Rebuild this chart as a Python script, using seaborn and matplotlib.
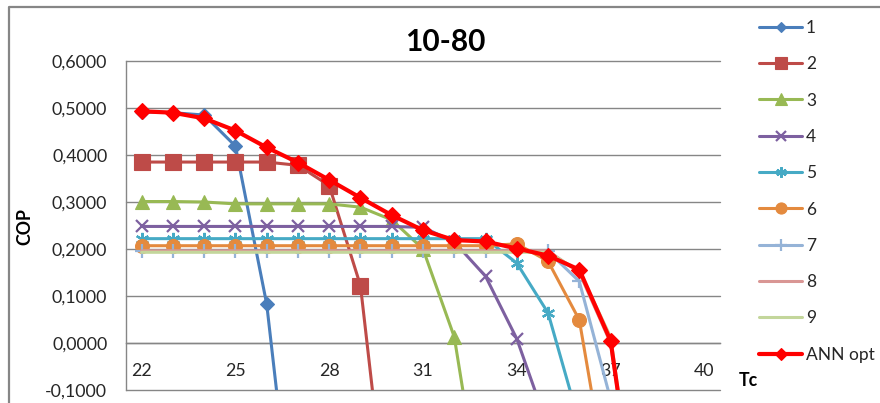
import numpy as np
import matplotlib
matplotlib.use("Agg")
import matplotlib.pyplot as plt
from matplotlib.lines import Line2D
import seaborn as sns

# Condenser temperature categories (Tc)
tc = [22, 23, 24, 25, 26, 27, 28, 29, 30, 31, 32, 33, 34, 35, 36, 37, 38, 39, 40]
nan = np.nan

# COP of each configuration; values past the point where a curve leaves the
# plotted range are not defined
cop_1 = [0.492, 0.490, 0.485, 0.419, 0.083, -0.500] + [nan] * 13
cop_2 = [0.385, 0.385, 0.385, 0.385, 0.385, 0.378, 0.335, 0.122, -0.460] + [nan] * 10
cop_3 = [0.301, 0.301, 0.300, 0.296, 0.296, 0.296, 0.296, 0.289, 0.262, 0.200,
         0.013, -0.400] + [nan] * 7
cop_4 = [0.248] * 9 + [0.246, 0.215, 0.142, 0.009, -0.180] + [nan] * 5
cop_5 = [0.222] * 12 + [0.170, 0.064, -0.170] + [nan] * 4
cop_6 = [0.207] * 12 + [0.211, 0.174, 0.049, -0.340] + [nan] * 3
cop_7 = [0.195] * 14 + [0.131, -0.120] + [nan] * 3
cop_8 = [0.196] * 14 + [0.150, 0.000, -0.460] + [nan] * 2
cop_9 = [0.193] * 14 + [0.153, 0.013, -0.460] + [nan] * 2
cop_ann = [0.493, 0.490, 0.478, 0.452, 0.416, 0.384, 0.347, 0.309, 0.272, 0.240,
           0.219, 0.216, 0.201, 0.186, 0.156, 0.005, -0.460] + [nan] * 2

series_names = ["1", "2", "3", "4", "5", "6", "7", "8", "9", "ANN opt"]
series_values = [cop_1, cop_2, cop_3, cop_4, cop_5, cop_6, cop_7, cop_8, cop_9, cop_ann]

x_ticks = [22, 25, 28, 31, 34, 37, 40]
x_tick_labels = ["22", "25", "28", "31", "34", "37", "40"]
y_ticks = [-0.1, 0.0, 0.1, 0.2, 0.3, 0.4, 0.5, 0.6]
y_tick_labels = ["-0,1000", "0,0000", "0,1000", "0,2000", "0,3000",
                 "0,4000", "0,5000", "0,6000"]

# Line colours and marker styles per series
colors = ["#4A7EBB", "#BE4B48", "#98B954", "#7D60A0", "#46AAC5",
          "#E48A3E", "#95B3D7", "#D99694", "#C3D69B", "#FF0000"]
markers = ["D", "s", "^", "x", (6, 2, 0), "o", "+", None, None, "D"]
msizes = [6.8, 11.0, 10.5, 9.0, 9.5, 10.0, 10.0, 0, 0, 7.8]
lwidths = [2.2, 2.2, 2.2, 2.2, 2.2, 2.2, 2.2, 2.2, 2.2, 3.0]

sns.set_theme(style="white")
plt.rcParams["font.family"] = ["Lato", "DejaVu Sans"]
grid_color = "#868686"
text_color = "#262626"

fig = plt.figure(figsize=(8.8, 4.03), dpi=100)
ax = fig.add_axes([126 / 880, 1 - 390 / 403, 594 / 880, 329 / 403])

handles = []
for i, (name, vals) in enumerate(zip(series_names, series_values)):
    kw = dict(color=colors[i], linewidth=lwidths[i], solid_joinstyle="round",
              solid_capstyle="round", zorder=3 + i)
    if markers[i] is not None:
        thin = markers[i] in ("x", "+") or isinstance(markers[i], tuple)
        kw.update(marker=markers[i], markersize=msizes[i],
                  markeredgecolor=colors[i], markerfacecolor=colors[i],
                  markeredgewidth=1.6 if thin else 0.8)
    sns.lineplot(x=tc, y=vals, ax=ax, legend=False, **kw)
    line = ax.lines[-1]
    line.set_label(name)
    handles.append(line)

ax.set_xlim(21.5, 40.5)
ax.set_ylim(-0.1, 0.6)
ax.set_xticks(x_ticks)
ax.set_xticklabels(x_tick_labels)
ax.set_yticks(y_ticks)
ax.set_yticklabels(y_tick_labels)
ax.set_xlabel("")
ax.set_ylabel("")

# Horizontal axis crosses the value axis at zero
ax.spines["bottom"].set_position(("data", 0))
ax.spines["bottom"].set_color(grid_color)
ax.spines["bottom"].set_linewidth(1.0)
ax.spines["bottom"].set_zorder(1)
ax.spines["left"].set_color(grid_color)
ax.spines["left"].set_linewidth(1.0)
ax.spines["top"].set_visible(False)
ax.spines["right"].set_visible(False)

ax.set_axisbelow(True)
ax.yaxis.grid(True, color=grid_color, linewidth=1.0)
ax.xaxis.grid(False)
for gl in ax.yaxis.get_gridlines():
    gl.set_clip_on(False)

ax.tick_params(axis="y", length=0, pad=13.5, labelsize=12.8, labelcolor=text_color)
ax.tick_params(axis="x", length=0, pad=14.5, labelsize=12.8, labelcolor=text_color)

# Titles and axis names
fig.text(445 / 880, 1 - 42 / 403, "10-80", ha="center", va="center",
         fontsize=21.5, fontweight="bold", color="black")
fig.text(25 / 880, 1 - 227 / 403, "COP", ha="center", va="center",
         rotation=90, fontsize=12.8, fontweight="bold", color="black")
fig.text(748 / 880, 1 - 381 / 403, "Tc", ha="center", va="center",
         fontsize=12.8, fontweight="bold", color="black")

fig.legend(handles=handles, labels=series_names, loc="upper left",
           bbox_to_anchor=(752 / 880, 1 - 13 / 403), frameon=False,
           fontsize=12.5, handlelength=2.5, handletextpad=0.2,
           labelspacing=1.17, markerscale=0.8, borderaxespad=0,
           labelcolor=text_color)

# Chart area border
fig.add_artist(Line2D([9 / 880, 9 / 880, 1.0], [0.0, 1 - 7 / 403, 1 - 7 / 403],
                      transform=fig.transFigure, color=grid_color, linewidth=1.6))

fig.savefig("out.png", dpi=100)
